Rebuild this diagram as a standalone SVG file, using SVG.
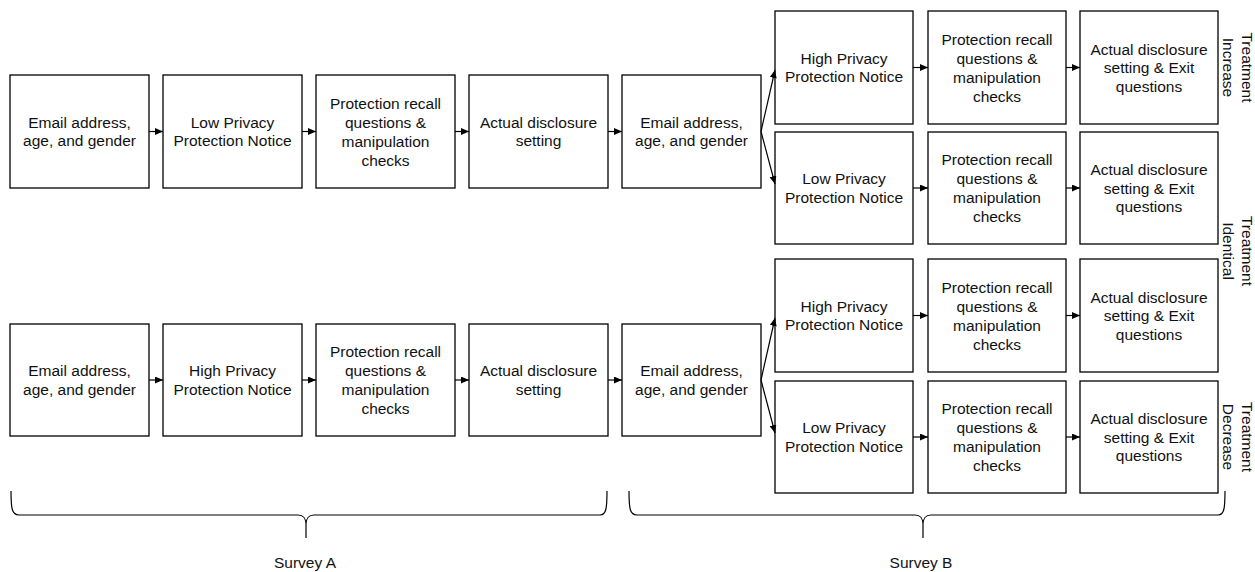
<svg xmlns="http://www.w3.org/2000/svg" width="1255" height="572" viewBox="0 0 1255 572">
  <style>
    .box { fill: #ffffff; stroke: #000000; stroke-width: 1.3; }
    .lbl { font-family: "Liberation Sans", Arial, sans-serif; font-size: 15.5px; fill: #111111; text-anchor: middle; }
    .edge { stroke: #000000; stroke-width: 1.2; fill: none; marker-end: url(#arrow); }
    .brace { stroke: #000000; stroke-width: 1.2; fill: none; }
  </style>
  <defs>
    <marker id="arrow" markerUnits="userSpaceOnUse" markerWidth="8" markerHeight="7" refX="8" refY="3.5" orient="auto">
      <path d="M0,0 L8,3.5 L0,7 z" fill="#000000"/>
    </marker>
  </defs>
  <rect width="1255" height="572" fill="#ffffff"/>

  <!-- Survey A, low-notice row -->
  <g id="a1-email"><rect class="box" x="10" y="75" width="139" height="113"/>
    <text class="lbl" x="79.5" y="127.6">Email address,<tspan x="79.5" dy="18.6">age, and gender</tspan></text></g>
  <g id="a1-notice"><rect class="box" x="163" y="75" width="139" height="113"/>
    <text class="lbl" x="232.5" y="127.6">Low Privacy<tspan x="232.5" dy="18.6">Protection Notice</tspan></text></g>
  <g id="a1-recall"><rect class="box" x="316" y="75" width="139" height="113"/>
    <text class="lbl" x="385.5" y="108.5">Protection recall<tspan x="385.5" dy="19">questions &amp;</tspan><tspan x="385.5" dy="19">manipulation</tspan><tspan x="385.5" dy="19">checks</tspan></text></g>
  <g id="a1-setting"><rect class="box" x="469" y="75" width="139" height="113"/>
    <text class="lbl" x="538.5" y="127.6">Actual disclosure<tspan x="538.5" dy="18.6">setting</tspan></text></g>
  <g id="b1-email"><rect class="box" x="622" y="75" width="139" height="113"/>
    <text class="lbl" x="691.5" y="127.6">Email address,<tspan x="691.5" dy="18.6">age, and gender</tspan></text></g>

  <!-- Survey A, high-notice row -->
  <g id="a2-email"><rect class="box" x="10" y="324" width="139" height="112"/>
    <text class="lbl" x="79.5" y="376.1">Email address,<tspan x="79.5" dy="18.6">age, and gender</tspan></text></g>
  <g id="a2-notice"><rect class="box" x="163" y="324" width="139" height="112"/>
    <text class="lbl" x="232.5" y="376.1">High Privacy<tspan x="232.5" dy="18.6">Protection Notice</tspan></text></g>
  <g id="a2-recall"><rect class="box" x="316" y="324" width="139" height="112"/>
    <text class="lbl" x="385.5" y="357">Protection recall<tspan x="385.5" dy="19">questions &amp;</tspan><tspan x="385.5" dy="19">manipulation</tspan><tspan x="385.5" dy="19">checks</tspan></text></g>
  <g id="a2-setting"><rect class="box" x="469" y="324" width="139" height="112"/>
    <text class="lbl" x="538.5" y="376.1">Actual disclosure<tspan x="538.5" dy="18.6">setting</tspan></text></g>
  <g id="b2-email"><rect class="box" x="622" y="324" width="139" height="112"/>
    <text class="lbl" x="691.5" y="376.1">Email address,<tspan x="691.5" dy="18.6">age, and gender</tspan></text></g>

  <!-- Survey B branches: increase -->
  <g id="inc-notice"><rect class="box" x="775" y="11" width="138" height="113"/>
    <text class="lbl" x="844" y="63.6">High Privacy<tspan x="844" dy="18.6">Protection Notice</tspan></text></g>
  <g id="inc-recall"><rect class="box" x="928" y="11" width="138" height="113"/>
    <text class="lbl" x="997" y="44.5">Protection recall<tspan x="997" dy="19">questions &amp;</tspan><tspan x="997" dy="19">manipulation</tspan><tspan x="997" dy="19">checks</tspan></text></g>
  <g id="inc-exit"><rect class="box" x="1080" y="11" width="138" height="113"/>
    <text class="lbl" x="1149" y="54.5">Actual disclosure<tspan x="1149" dy="18.6">setting &amp; Exit</tspan><tspan x="1149" dy="18.6">questions</tspan></text></g>

  <!-- Survey B branches: identical (low) -->
  <g id="idl-notice"><rect class="box" x="775" y="132" width="138" height="112"/>
    <text class="lbl" x="844" y="184.1">Low Privacy<tspan x="844" dy="18.6">Protection Notice</tspan></text></g>
  <g id="idl-recall"><rect class="box" x="928" y="132" width="138" height="112"/>
    <text class="lbl" x="997" y="165">Protection recall<tspan x="997" dy="19">questions &amp;</tspan><tspan x="997" dy="19">manipulation</tspan><tspan x="997" dy="19">checks</tspan></text></g>
  <g id="idl-exit"><rect class="box" x="1080" y="132" width="138" height="112"/>
    <text class="lbl" x="1149" y="175">Actual disclosure<tspan x="1149" dy="18.6">setting &amp; Exit</tspan><tspan x="1149" dy="18.6">questions</tspan></text></g>

  <!-- Survey B branches: identical (high) -->
  <g id="idh-notice"><rect class="box" x="775" y="259" width="138" height="113"/>
    <text class="lbl" x="844" y="311.6">High Privacy<tspan x="844" dy="18.6">Protection Notice</tspan></text></g>
  <g id="idh-recall"><rect class="box" x="928" y="259" width="138" height="113"/>
    <text class="lbl" x="997" y="292.5">Protection recall<tspan x="997" dy="19">questions &amp;</tspan><tspan x="997" dy="19">manipulation</tspan><tspan x="997" dy="19">checks</tspan></text></g>
  <g id="idh-exit"><rect class="box" x="1080" y="259" width="138" height="113"/>
    <text class="lbl" x="1149" y="302.5">Actual disclosure<tspan x="1149" dy="18.6">setting &amp; Exit</tspan><tspan x="1149" dy="18.6">questions</tspan></text></g>

  <!-- Survey B branches: decrease -->
  <g id="dec-notice"><rect class="box" x="775" y="381" width="138" height="112"/>
    <text class="lbl" x="844" y="433.1">Low Privacy<tspan x="844" dy="18.6">Protection Notice</tspan></text></g>
  <g id="dec-recall"><rect class="box" x="928" y="381" width="138" height="112"/>
    <text class="lbl" x="997" y="414">Protection recall<tspan x="997" dy="19">questions &amp;</tspan><tspan x="997" dy="19">manipulation</tspan><tspan x="997" dy="19">checks</tspan></text></g>
  <g id="dec-exit"><rect class="box" x="1080" y="381" width="138" height="112"/>
    <text class="lbl" x="1149" y="424">Actual disclosure<tspan x="1149" dy="18.6">setting &amp; Exit</tspan><tspan x="1149" dy="18.6">questions</tspan></text></g>

  <!-- Treatment labels -->
  <g id="label-increase"><text class="lbl" transform="translate(1241.6,67.5) rotate(90)">Treatment<tspan x="0" dy="18.6">Increase</tspan></text></g>
  <g id="label-identical"><text class="lbl" transform="translate(1241.6,251) rotate(90)">Treatment<tspan x="0" dy="18.6">Identical</tspan></text></g>
  <g id="label-decrease"><text class="lbl" transform="translate(1241.6,437) rotate(90)">Treatment<tspan x="0" dy="18.6">Decrease</tspan></text></g>

  <!-- Connectors -->
  <g id="connectors">
    <line class="edge" x1="149" y1="131.5" x2="163" y2="131.5"/>
    <line class="edge" x1="302" y1="131.5" x2="316" y2="131.5"/>
    <line class="edge" x1="455" y1="131.5" x2="469" y2="131.5"/>
    <line class="edge" x1="608" y1="131.5" x2="622" y2="131.5"/>
    <line class="edge" x1="761" y1="131.5" x2="775" y2="70"/>
    <line class="edge" x1="761" y1="131.5" x2="775" y2="184"/>

    <line class="edge" x1="149" y1="380" x2="163" y2="380"/>
    <line class="edge" x1="302" y1="380" x2="316" y2="380"/>
    <line class="edge" x1="455" y1="380" x2="469" y2="380"/>
    <line class="edge" x1="608" y1="380" x2="622" y2="380"/>
    <line class="edge" x1="761" y1="380" x2="775" y2="318"/>
    <line class="edge" x1="761" y1="380" x2="775" y2="433"/>

    <line class="edge" x1="913" y1="67.5" x2="928" y2="67.5"/>
    <line class="edge" x1="1066" y1="67.5" x2="1080" y2="67.5"/>
    <line class="edge" x1="913" y1="188" x2="928" y2="188"/>
    <line class="edge" x1="1066" y1="188" x2="1080" y2="188"/>
    <line class="edge" x1="913" y1="315.5" x2="928" y2="315.5"/>
    <line class="edge" x1="1066" y1="315.5" x2="1080" y2="315.5"/>
    <line class="edge" x1="913" y1="437" x2="928" y2="437"/>
    <line class="edge" x1="1066" y1="437" x2="1080" y2="437"/>
  </g>

  <!-- Survey braces -->
  <g id="survey-a">
    <path class="brace" d="M11,491 C11,509 12,515 19,515 L298,515 C303,515 306,517 306,525 L306,538 M306,525 C306,517 309,515 314,515 L600,515 C606,515 607,509 607,491"/>
    <text class="lbl" x="305" y="567.5">Survey A</text>
  </g>
  <g id="survey-b">
    <path class="brace" d="M629,491 C629,509 630,515 637,515 L915,515 C920,515 923,517 923,525 L923,538 M923,525 C923,517 926,515 931,515 L1218,515 C1224,515 1225,509 1225,491"/>
    <text class="lbl" x="921" y="567.5">Survey B</text>
  </g>
</svg>
